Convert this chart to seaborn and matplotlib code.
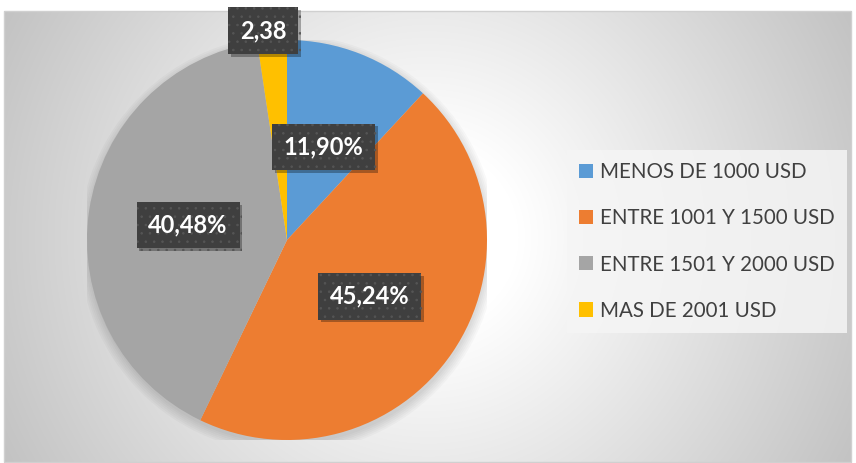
import numpy as np
import matplotlib.pyplot as plt
import matplotlib.patheffects as pe
import seaborn as sns
from matplotlib.patches import Circle, Rectangle

sns.set_theme(style='white')
plt.rcParams['font.family'] = ['Lato', 'DejaVu Sans']
plt.rcParams['hatch.linewidth'] = 0.6

# data
categories = ['MENOS DE 1000 USD', 'ENTRE 1001 Y 1500 USD',
              'ENTRE 1501 Y 2000 USD', 'MAS DE 2001 USD']
shares = [11.90, 45.24, 40.48, 2.38]
value_labels = ['11,90%', '45,24%', '40,48%', '2,38']
slice_colors = sns.color_palette(['#5B9BD5', '#ED7D31', '#A5A5A5', '#FFC000'])

W, H = 856, 463
fig = plt.figure(figsize=(W / 100, H / 100), dpi=100)

# chart area background: radial gradient white -> gray
bg = fig.add_axes([0, 0, 1, 1])
yy, xx = np.mgrid[0:H, 0:W]
d = np.hypot(xx - 428, yy - 237)
level = 1 - 0.24 * np.clip((d - 90) / 395, 0, 1)
img = np.dstack([level] * 3)
outside = (xx < 4) | (xx > 851) | (yy < 11)
img[outside] = 1.0
bg.imshow(img, extent=(0, W, H, 0), aspect='auto', interpolation='bilinear')
bg.add_patch(Rectangle((4, 11), 847, 451, fill=False, edgecolor='#d0d0d0', linewidth=1))
bg.set_xlim(0, W)
bg.set_ylim(H, 0)
bg.axis('off')

# pie
ax = fig.add_axes([87 / W, 23 / H, 400 / W, 400 / H])
ax.set_facecolor('none')
for r in np.linspace(1.0, 1.045, 6):
    ax.add_patch(Circle((0.005, -0.02), r, color='black', alpha=0.025,
                        linewidth=0, zorder=0.5))
wedges, _ = ax.pie(shares, colors=slice_colors, startangle=90, counterclock=False,
                   radius=1, wedgeprops=dict(linewidth=0))
ax.set_xlim(-1, 1)
ax.set_ylim(-1, 1)
ax.set_aspect('equal')
ax.axis('off')

for w, share, lab in zip(wedges, shares, value_labels):
    mid = np.deg2rad((w.theta1 + w.theta2) / 2)
    inside = share > 5
    dist = 0.5 if inside else 1.05
    x, y = dist * np.cos(mid), dist * np.sin(mid)
    t = ax.annotate(lab, xy=(x, y), xytext=(0, 0) if inside else (-6, 0),
                    textcoords='offset points', ha='center', va='center',
                    color='white', fontsize=17, fontweight='bold', zorder=5,
                    annotation_clip=False,
                    bbox=dict(boxstyle='square,pad=0.5', facecolor='#3f3f3f',
                              edgecolor='#555555', linewidth=0, hatch='..'))
    t.get_bbox_patch().set_path_effects(
        [pe.SimplePatchShadow(offset=(2, -2), shadow_rgbFace='black', alpha=0.3),
         pe.Normal()])

leg = fig.legend(wedges, categories, loc='upper left',
                 bbox_to_anchor=(567 / W, 1 - 150 / H), borderaxespad=0,
                 frameon=True, facecolor='#f5f5f5', edgecolor='none',
                 framealpha=0.85, fontsize=14.8, labelcolor='#404040',
                 handlelength=0.68, handleheight=0.68, handletextpad=0.34,
                 labelspacing=1.27, borderpad=0.6, fancybox=False)

fig.savefig('out.png', dpi=100)
